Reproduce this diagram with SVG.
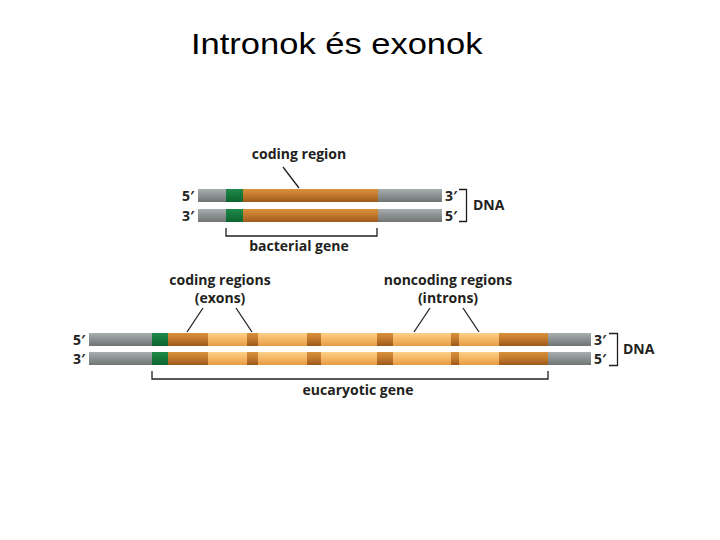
<svg xmlns="http://www.w3.org/2000/svg" width="720" height="540" viewBox="0 0 720 540">
<defs>
<linearGradient id="gGray" x1="0" y1="0" x2="0" y2="1"><stop offset="0" stop-color="#a9aeae"/><stop offset="0.45" stop-color="#8e9494"/><stop offset="1" stop-color="#6f7575"/></linearGradient>
<linearGradient id="gGreen" x1="0" y1="0" x2="0" y2="1"><stop offset="0" stop-color="#1f8a48"/><stop offset="1" stop-color="#0c6430"/></linearGradient>
<linearGradient id="gDark" x1="0" y1="0" x2="0" y2="1"><stop offset="0" stop-color="#d8913c"/><stop offset="0.45" stop-color="#c47a2c"/><stop offset="1" stop-color="#9c5a1c"/></linearGradient>
<linearGradient id="gLight" x1="0" y1="0" x2="0" y2="1"><stop offset="0" stop-color="#fbd08a"/><stop offset="0.45" stop-color="#f6b866"/><stop offset="1" stop-color="#e59c45"/></linearGradient>
<g id="euStrand">
<rect x="89" y="0" width="63" height="13" fill="url(#gGray)"/>
<rect x="152" y="0" width="16" height="13" fill="url(#gGreen)"/>
<rect x="168" y="0" width="40" height="13" fill="url(#gDark)"/>
<rect x="208" y="0" width="39" height="13" fill="url(#gLight)"/>
<rect x="247" y="0" width="11" height="13" fill="url(#gDark)"/>
<rect x="258" y="0" width="49" height="13" fill="url(#gLight)"/>
<rect x="307" y="0" width="14" height="13" fill="url(#gDark)"/>
<rect x="321" y="0" width="56" height="13" fill="url(#gLight)"/>
<rect x="377" y="0" width="16" height="13" fill="url(#gDark)"/>
<rect x="393" y="0" width="58" height="13" fill="url(#gLight)"/>
<rect x="451" y="0" width="8" height="13" fill="url(#gDark)"/>
<rect x="459" y="0" width="40" height="13" fill="url(#gLight)"/>
<rect x="499" y="0" width="49" height="13" fill="url(#gDark)"/>
<rect x="548" y="0" width="43" height="13" fill="url(#gGray)"/>
</g>
<g id="baStrand">
<rect x="198" y="0" width="28" height="13" fill="url(#gGray)"/>
<rect x="226" y="0" width="17" height="13" fill="url(#gGreen)"/>
<rect x="243" y="0" width="135" height="13" fill="url(#gDark)"/>
<rect x="378" y="0" width="64" height="13" fill="url(#gGray)"/>
</g>
</defs>
<style>
.t{font-family:"Open Sans","Liberation Sans",sans-serif;font-weight:bold;font-size:14px;fill:#231f20}
.lbl{font-family:"Open Sans","Liberation Sans",sans-serif;font-weight:bold;font-size:14px;fill:#231f20;text-anchor:middle}
.ln{stroke:#231f20;stroke-width:1.3;fill:none}
.title{font-family:"Liberation Sans",Arial,sans-serif;font-size:29px;fill:#000}
</style>
<text class="title" transform="translate(191,54) scale(1.19,1)">Intronok és exonok</text>

<g id="bacterial-dna">
<use href="#baStrand" y="189"/>
<use href="#baStrand" y="209"/>
<text class="t" x="182" y="201">5′</text>
<text class="t" x="182" y="221">3′</text>
<text class="t" x="445" y="201">3′</text>
<text class="t" x="445" y="221">5′</text>
<path class="ln" d="M459,189.5 H466.5 V221.5 H459"/>
<text class="t" x="473" y="210">DNA</text>
</g>
<g id="bacterial-labels">
<text class="lbl" x="299" y="159">coding region</text>
<path class="ln" d="M226,228 V236 H377 V228"/>
<text class="lbl" x="299" y="251">bacterial gene</text>
</g>

<g id="eukaryotic-dna">
<use href="#euStrand" y="333"/>
<use href="#euStrand" y="352"/>
<text class="t" x="73" y="345">5′</text>
<text class="t" x="73" y="364">3′</text>
<text class="t" x="594" y="345">3′</text>
<text class="t" x="594" y="364">5′</text>
<path class="ln" d="M609,333.5 H617.5 V365.5 H609"/>
<text class="t" x="623" y="354">DNA</text>
</g>
<g id="eukaryotic-labels">
<text class="lbl" x="220" y="285">coding regions</text>
<text class="lbl" x="220" y="303">(exons)</text>
<text class="lbl" x="448" y="285">noncoding regions</text>
<text class="lbl" x="448" y="303">(introns)</text>
<path class="ln" d="M152,371 V379 H548 V371"/>
<text class="lbl" x="358" y="395">eucaryotic gene</text>
</g>

<g id="connectors">
<line class="ln" x1="283" y1="167" x2="299" y2="188"/>
<line class="ln" x1="203" y1="308" x2="187" y2="332"/>
<line class="ln" x1="236" y1="308" x2="252" y2="332"/>
<line class="ln" x1="430" y1="308" x2="414" y2="332"/>
<line class="ln" x1="463" y1="308" x2="479" y2="332"/>
</g>
</svg>
